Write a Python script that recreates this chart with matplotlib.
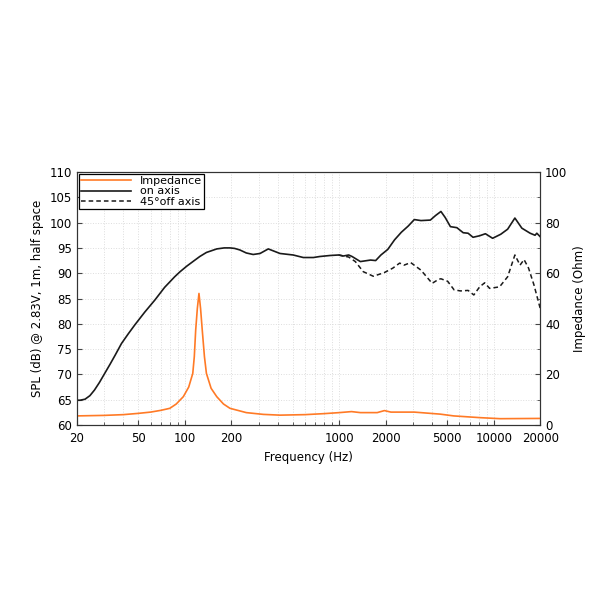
import numpy as np
from matplotlib import pyplot as plt
from matplotlib.ticker import LogLocator, NullFormatter, MultipleLocator

# on-axis SPL (dB)
on_freq = [20, 21, 22.6, 24.3, 26, 28, 30.3, 32.8, 35.4, 38.9, 43, 47.5, 55, 64, 74,
           86, 93.2, 103, 114, 125, 138, 161, 180, 196, 210, 227, 250, 277, 307, 347,
           375, 413, 503, 585, 680, 748, 872, 990, 1064, 1150, 1210, 1369, 1594, 1720,
           1860, 2060, 2280, 2523, 2790, 3060, 3380, 3886, 4200, 4550, 4850, 5240,
           5770, 6340, 6820, 7340, 8100, 8830, 9830, 11100, 12300, 13700, 15200,
           17200, 18500, 19000, 20000]
on_spl = [64.9, 64.9, 65.1, 65.8, 66.9, 68.4, 70.2, 72.0, 73.8, 76.1, 78.0, 79.8,
          82.3, 84.7, 87.2, 89.3, 90.3, 91.4, 92.4, 93.3, 94.1, 94.8, 95.0, 95.0,
          94.9, 94.6, 94.0, 93.7, 93.9, 94.8, 94.4, 93.9, 93.6, 93.1, 93.1, 93.3,
          93.5, 93.6, 93.4, 93.6, 93.3, 92.3, 92.6, 92.5, 93.6, 94.7, 96.6, 98.1,
          99.3, 100.6, 100.4, 100.5, 101.4, 102.2, 101.0, 99.2, 99.0, 98.0, 97.9,
          97.1, 97.4, 97.8, 96.9, 97.7, 98.7, 100.9, 98.9, 97.9, 97.5, 97.9, 97.2]

# 45 deg off-axis SPL (dB), splits from on-axis near 1 kHz
off_freq = [990, 1064, 1150, 1270, 1430, 1660, 1950, 2220, 2460, 2630, 2900, 3380,
            3990, 4400, 4550, 5030, 5540, 6100, 6820, 7430, 8100, 8730, 9400, 10900,
            12300, 13700, 14800, 15700, 16800, 18200, 20000]
off_spl = [93.6, 93.4, 93.2, 92.3, 90.3, 89.4, 90.1, 91.0, 92.0, 91.6, 92.1, 90.6,
           88.0, 88.8, 88.9, 88.4, 86.7, 86.5, 86.6, 85.7, 87.3, 88.1, 87.0, 87.3,
           89.3, 93.6, 91.6, 92.7, 91.0, 87.7, 83.0]

# impedance (Ohm)
imp_freq = [20, 30, 40, 50, 60, 70, 80, 88, 97.8, 106, 112.6, 115.2, 117.6, 120.5,
            123.5, 126.5, 129.7, 134, 138, 148, 161, 178, 196, 250, 322, 413, 600,
            800, 1000, 1200, 1370, 1760, 1960, 2160, 3060, 4500, 5500, 8200, 11000,
            20000]
imp_ohm = [3.6, 3.8, 4.1, 4.6, 5.1, 5.8, 6.6, 8.3, 11.2, 15.0, 20.4, 27.0, 37.5,
           46.0, 52.0, 46.0, 37.5, 27.0, 20.4, 14.5, 11.2, 8.3, 6.6, 4.9, 4.2, 3.9,
           4.1, 4.5, 4.9, 5.3, 4.9, 4.9, 5.7, 5.1, 5.1, 4.3, 3.6, 2.9, 2.5, 2.6]

plt.rcParams['font.family'] = 'DejaVu Sans'
plt.rcParams['font.size'] = 8

fig = plt.figure(figsize=(6.05, 6.05), dpi=100)
ax = fig.add_axes([0.127, 0.2975, 0.766, 0.4182])
ax2 = ax.twinx()

orange = '#ff7a26'
l1, = ax2.plot(imp_freq, imp_ohm, color=orange, lw=1.2)
l2, = ax.plot(on_freq, on_spl, color='#1a1a1a', lw=1.2)
l3, = ax.plot(off_freq, off_spl, color='#1a1a1a', lw=1.1, ls=(0, (3, 2)))

ax.set_xscale('log')
ax.set_xlim(20, 20000)
ax.set_ylim(60, 110)
ax2.set_ylim(0, 100)
ax.set_xticks([20, 50, 100, 200, 1000, 2000, 5000, 10000, 20000])
ax.set_xticklabels(['20', '50', '100', '200', '1000', '2000', '5000', '10000', '20000'])
ax.xaxis.set_minor_locator(LogLocator(base=10, subs=np.arange(1, 10)))
ax.xaxis.set_minor_formatter(NullFormatter())
ax.yaxis.set_major_locator(MultipleLocator(5))
ax2.yaxis.set_major_locator(MultipleLocator(20))
ax2.yaxis.set_minor_locator(MultipleLocator(10))

ax.grid(which='both', axis='x', color='#dddddd', ls=':', lw=0.7)
ax.grid(which='major', axis='y', color='#dddddd', ls=':', lw=0.7)
ax.tick_params(which='both', direction='in', top=False, labelsize=8.5, color='#444444')
ax.tick_params(axis='x', pad=5)
ax.tick_params(which='minor', length=2.5)
ax2.tick_params(which='both', direction='in', labelsize=8.5, color='#444444')
ax2.tick_params(which='minor', length=2.5)

ax.set_xlabel('Frequency (Hz)', fontsize=8.5)
ax.set_ylabel('SPL (dB) @ 2.83V, 1m, half space', fontsize=8.5)
ax2.set_ylabel('Impedance (Ohm)', fontsize=8.5)

for a in (ax, ax2):
    for s in a.spines.values():
        s.set_color('#333333')

leg = ax.legend([l1, l2, l3], ['Impedance', 'on axis', '45°off axis'],
                loc='upper left', fancybox=False, framealpha=1, edgecolor='black',
                fontsize=8, handlelength=4.5, borderpad=0.2, labelspacing=0.05,
                borderaxespad=0.15, handletextpad=0.8)
leg.get_frame().set_linewidth(0.9)

plt.savefig('out.png', dpi=100)
